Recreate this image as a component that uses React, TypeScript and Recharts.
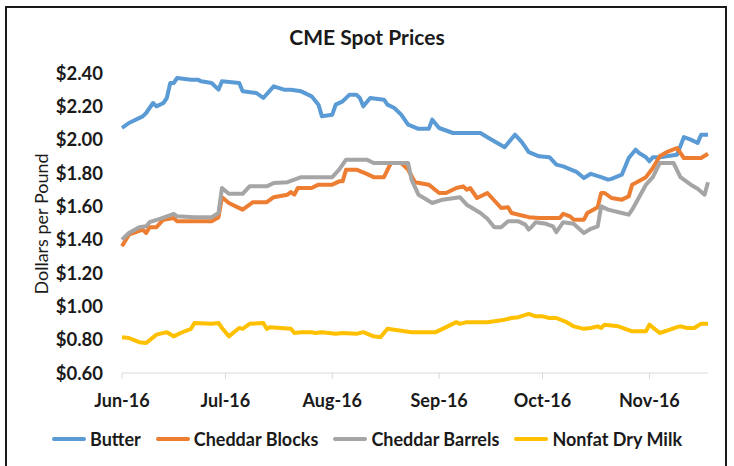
import React from 'react';
import { LineChart, Line, XAxis, YAxis } from 'recharts';

// days counted from Jun 1, 2016
const monthTicks = [0, 30, 61, 92, 122, 153];
const monthLabels = ['Jun-16', 'Jul-16', 'Aug-16', 'Sep-16', 'Oct-16', 'Nov-16'];
const priceTicks = [0.6, 0.8, 1.0, 1.2, 1.4, 1.6, 1.8, 2.0, 2.2, 2.4];

const butterDays = [
  0, 2, 6, 7, 9, 10, 12, 13, 14, 15,
  16, 20, 22, 23, 26, 28, 29, 34, 35, 39,
  41, 44, 47, 49, 52, 55, 57, 58, 61, 62,
  64, 66, 68, 69, 70, 72, 76, 77, 79, 81,
  83, 86, 89, 90, 92, 96, 104, 106, 111, 114,
  116, 118, 121, 124, 126, 128, 132, 134, 136, 139,
  141, 142, 145, 147, 149, 150, 152, 153, 154, 156,
  161, 163, 165, 167, 168, 170,
];
const butterPrices = [
  2.07, 2.10, 2.14, 2.16, 2.22, 2.20, 2.22, 2.25, 2.34, 2.34,
  2.37, 2.36, 2.36, 2.35, 2.34, 2.30, 2.35, 2.34, 2.29, 2.28,
  2.25, 2.32, 2.30, 2.30, 2.29, 2.26, 2.21, 2.14, 2.15, 2.21,
  2.23, 2.27, 2.27, 2.25, 2.20, 2.25, 2.24, 2.21, 2.19, 2.15,
  2.09, 2.065, 2.065, 2.12, 2.07, 2.04, 2.04, 2.015, 1.955, 2.03,
  1.985, 1.925, 1.90, 1.895, 1.85, 1.84, 1.805, 1.77, 1.795, 1.775,
  1.76, 1.765, 1.79, 1.89, 1.94, 1.92, 1.895, 1.87, 1.895, 1.895,
  1.91, 2.015, 2.00, 1.98, 2.03, 2.03,
];

const blocksDays = [
  0, 2, 4, 6, 7, 8, 10, 12, 15, 16,
  26, 28, 29, 31, 33, 35, 38, 42, 44, 48,
  49, 50, 51, 55, 57, 61, 63, 64, 65, 68,
  71, 73, 76, 78, 81, 83, 85, 89, 92, 94,
  97, 99, 100, 101, 103, 106, 110, 112, 113, 118,
  121, 127, 128, 130, 131, 134, 135, 138, 139, 140,
  142, 145, 147, 148, 152, 154, 156, 158, 161, 163,
  168, 170,
];
const blocksPrices = [
  1.36, 1.43, 1.445, 1.46, 1.44, 1.475, 1.475, 1.52, 1.53, 1.51,
  1.51, 1.535, 1.655, 1.62, 1.60, 1.58, 1.625, 1.625, 1.655, 1.67,
  1.685, 1.67, 1.71, 1.71, 1.73, 1.73, 1.75, 1.75, 1.82, 1.82,
  1.795, 1.775, 1.775, 1.86, 1.86, 1.82, 1.745, 1.73, 1.68, 1.68,
  1.71, 1.72, 1.70, 1.71, 1.65, 1.68, 1.59, 1.595, 1.56, 1.535,
  1.53, 1.53, 1.555, 1.54, 1.52, 1.52, 1.56, 1.595, 1.68, 1.68,
  1.65, 1.64, 1.66, 1.73, 1.775, 1.83, 1.90, 1.925, 1.95, 1.89,
  1.89, 1.915,
];

const barrelsDays = [
  0, 2, 5, 7, 8, 11, 15, 16, 21, 26,
  28, 29, 31, 35, 37, 42, 44, 48, 52, 61,
  63, 65, 71, 73, 83, 84, 86, 90, 93, 98,
  100, 104, 106, 108, 110, 112, 115, 117, 118, 119,
  120, 123, 125, 126, 128, 131, 134, 136, 138, 139,
  141, 145, 147, 148, 150, 152, 154, 156, 160, 162,
  165, 167, 169, 170,
];
const barrelsPrices = [
  1.40, 1.44, 1.475, 1.48, 1.505, 1.525, 1.555, 1.54, 1.535, 1.535,
  1.56, 1.71, 1.675, 1.675, 1.72, 1.72, 1.74, 1.745, 1.775, 1.775,
  1.82, 1.88, 1.88, 1.86, 1.86, 1.76, 1.67, 1.62, 1.64, 1.655,
  1.61, 1.56, 1.525, 1.475, 1.475, 1.51, 1.51, 1.49, 1.46, 1.48,
  1.505, 1.495, 1.48, 1.445, 1.505, 1.495, 1.44, 1.465, 1.48, 1.60,
  1.58, 1.56, 1.55, 1.58, 1.655, 1.73, 1.775, 1.86, 1.86, 1.775,
  1.73, 1.705, 1.67, 1.745,
];

const milkDays = [
  0, 2, 5, 7, 10, 13, 15, 17, 20, 21,
  26, 28, 29, 31, 34, 35, 37, 41, 42, 43,
  49, 50, 52, 55, 56, 58, 62, 64, 68, 70,
  73, 75, 77, 82, 84, 91, 93, 97, 98, 100,
  106, 108, 111, 113, 115, 118, 120, 122, 124, 126,
  129, 131, 134, 136, 138, 139, 140, 144, 148, 152,
  153, 156, 159, 161, 162, 164, 166, 168, 170,
];
const milkPrices = [
  0.815, 0.81, 0.785, 0.78, 0.83, 0.845, 0.82, 0.84, 0.865, 0.90,
  0.895, 0.90, 0.87, 0.82, 0.87, 0.865, 0.895, 0.90, 0.865, 0.875,
  0.865, 0.84, 0.845, 0.845, 0.84, 0.845, 0.835, 0.84, 0.835, 0.845,
  0.82, 0.815, 0.865, 0.85, 0.845, 0.845, 0.865, 0.905, 0.895, 0.905,
  0.905, 0.91, 0.92, 0.93, 0.935, 0.955, 0.94, 0.94, 0.93, 0.93,
  0.905, 0.88, 0.865, 0.87, 0.88, 0.87, 0.89, 0.88, 0.85, 0.85,
  0.89, 0.84, 0.86, 0.875, 0.88, 0.87, 0.87, 0.895, 0.895,
];

const toPoints = (days: number[], prices: number[]) =>
  days.map((day, i) => ({ day, price: prices[i] }));

const series = [
  { name: 'Butter', color: '#5B9BD5', data: toPoints(butterDays, butterPrices) },
  { name: 'Cheddar Blocks', color: '#ED7D31', data: toPoints(blocksDays, blocksPrices) },
  { name: 'Cheddar Barrels', color: '#A5A5A5', data: toPoints(barrelsDays, barrelsPrices) },
  { name: 'Nonfat Dry Milk', color: '#FFC000', data: toPoints(milkDays, milkPrices) },
];

const FONT = 'Lato, "Open Sans", sans-serif';
const TEXT = '#1a1a1a';

export default function App() {
  return (
    <div style={{ position: 'absolute', left: 0, top: 0, width: 734, height: 466, overflow: 'hidden', background: '#fff', fontFamily: FONT }}>
      <div style={{ position: 'absolute', left: 5, top: 6, width: 722, height: 480, border: '2px solid #1a1a1a', boxSizing: 'border-box' }} />

      <div style={{ position: 'absolute', left: 0, top: 24, width: 734, textAlign: 'center', fontSize: 21, fontWeight: 700, color: TEXT }}>
        CME Spot Prices
      </div>

      <div style={{ position: 'absolute', left: 41, top: 224, transform: 'translate(-50%, -50%) rotate(-90deg)', whiteSpace: 'nowrap', fontSize: 18, color: TEXT }}>
        Dollars per Pound
      </div>

      <div style={{ position: 'absolute', left: 0, top: 0 }}>
        <LineChart width={734} height={466} margin={{ top: 73, right: 26, bottom: 63, left: 0 }}>
          <XAxis
            dataKey="day"
            type="number"
            domain={[0, 170]}
            ticks={monthTicks}
            tickFormatter={(v: number) => monthLabels[monthTicks.indexOf(v)]}
            height={30}
            stroke="#D9D9D9"
            tickSize={6}
            tickMargin={15}
            tick={{ fill: TEXT, fontSize: 18, fontWeight: 700, fontFamily: FONT }}
            allowDuplicatedCategory={false}
          />
          <YAxis
            type="number"
            domain={[0.6, 2.4]}
            ticks={priceTicks}
            tickFormatter={(v: number) => `$${v.toFixed(2)}`}
            width={122}
            axisLine={false}
            tickLine={false}
            tickSize={0}
            tickMargin={19}
            tick={{ fill: TEXT, fontSize: 18.5, fontWeight: 700, fontFamily: FONT }}
          />
          {series.map((s) => (
            <Line
              key={s.name}
              data={s.data}
              dataKey="price"
              name={s.name}
              type="linear"
              stroke={s.color}
              strokeWidth={4}
              strokeLinejoin="round"
              dot={false}
              isAnimationActive={false}
            />
          ))}
        </LineChart>
      </div>

      <div style={{ position: 'absolute', left: 0, top: 428, width: 734, display: 'flex', justifyContent: 'center', alignItems: 'center', gap: 15, fontSize: 18, fontWeight: 700, color: TEXT }}>
        {series.map((s) => (
          <div key={s.name} style={{ display: 'flex', alignItems: 'center', gap: 4 }}>
            <span style={{ display: 'inline-block', width: 34, height: 4, borderRadius: 2, background: s.color }} />
            <span>{s.name}</span>
          </div>
        ))}
      </div>
    </div>
  );
}
